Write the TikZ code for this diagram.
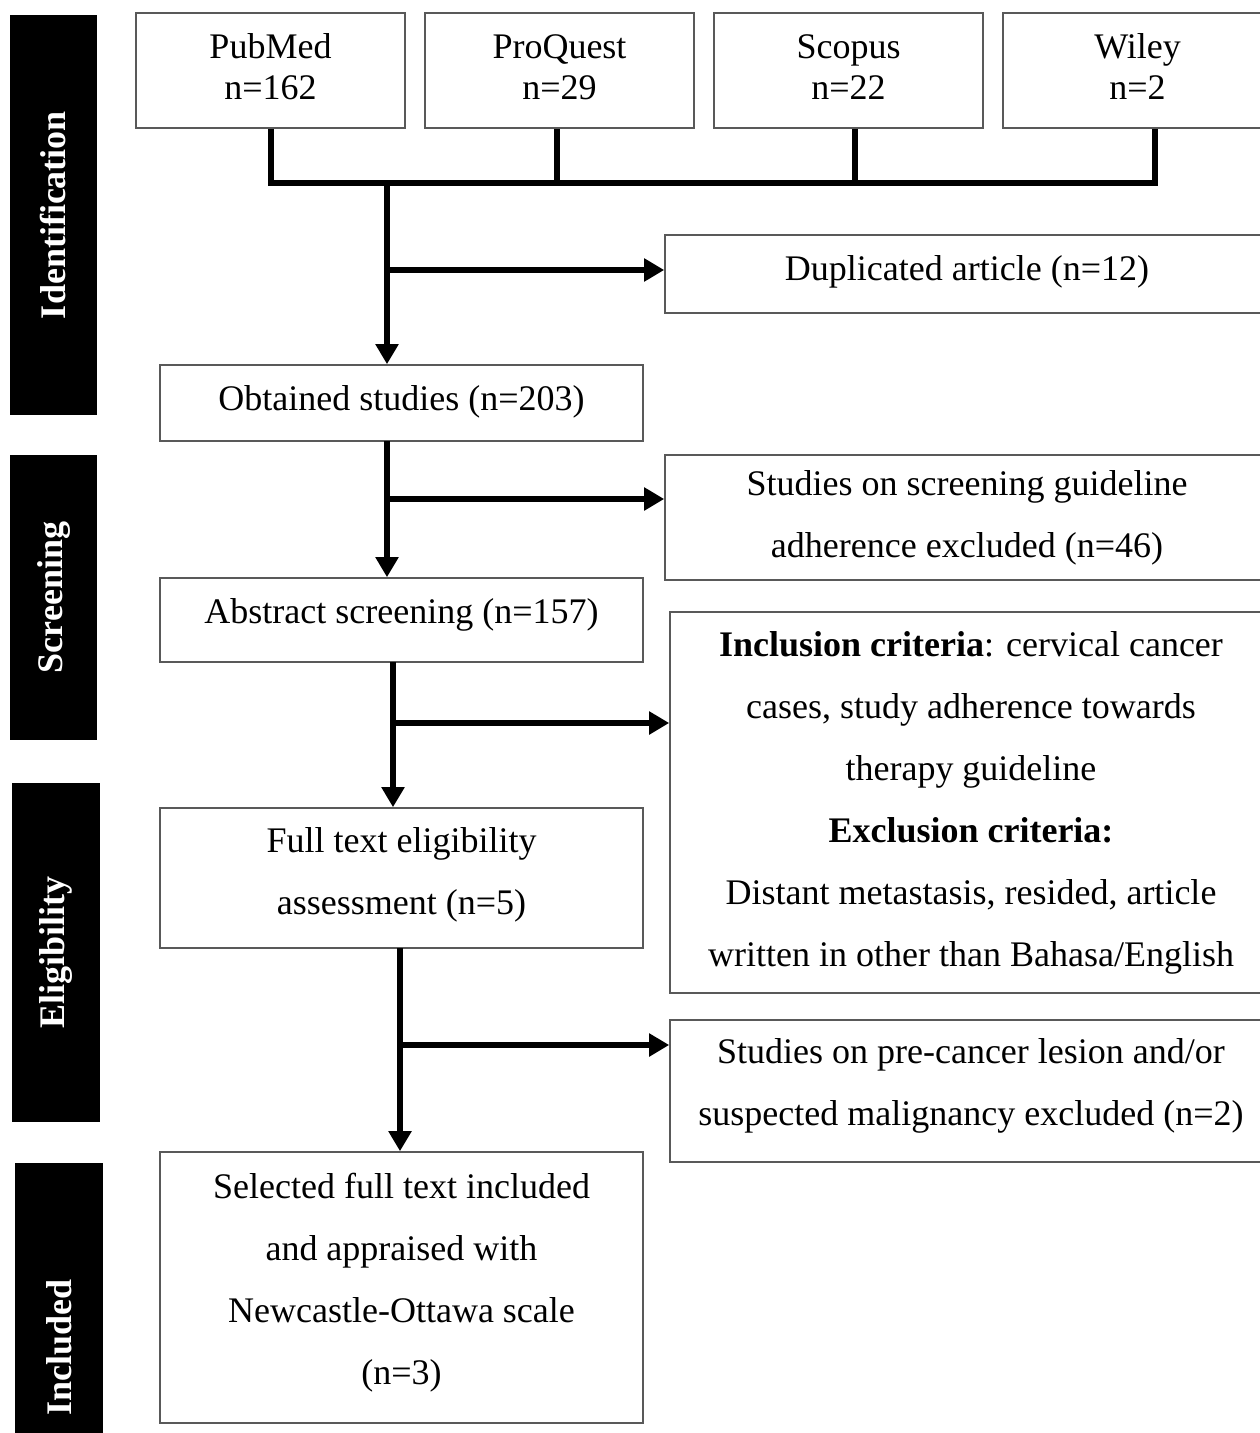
\documentclass[tikz,border=0pt]{standalone}
\usepackage{fontspec}
\setmainfont{Liberation Serif}
\usetikzlibrary{arrows.meta}
\newcommand\fsz{\fontsize{18pt}{31pt}\selectfont}
\begin{document}
\begin{tikzpicture}[x=0.5pt,y=-0.5pt,
  box/.style={draw=black!65, line width=0.8pt, align=center, inner sep=0pt, font=\fsz, fill=white},
  txt/.style={align=center, inner sep=0pt, font=\fsz},
  phase/.style={fill=black, text=white, inner sep=0pt, font=\fsz\bfseries, rotate=90},
  conn/.style={line width=3pt, line join=miter},
  arr/.style={line width=3pt, -{Triangle[length=10pt,width=11pt]}}]
\useasboundingbox (0,0) rectangle (1259,1433);
% phase labels
\node[phase, minimum width=200pt, minimum height=43.5pt] (pid) at (53.5,215) {Identification};
\node[phase, minimum width=142.5pt, minimum height=43.5pt] (psc) at (53.5,597.5) {Screening};
\node[phase, minimum width=169.5pt, minimum height=44pt] (pel) at (56,952.5) {Eligibility};
\node[phase, minimum width=184pt, minimum height=44pt] (pin) at (59,1347) {Included};
% sources
\node[box, minimum width=134.5pt, minimum height=57.5pt] (pubmed) at (270.5,70.5) {};
\node[box, minimum width=134.5pt, minimum height=57.5pt] (proquest) at (559.5,70.5) {};
\node[box, minimum width=134.5pt, minimum height=57.5pt] (scopus) at (848.5,70.5) {};
\node[box, minimum width=134.5pt, minimum height=57.5pt] (wiley) at (1137.5,70.5) {};
\node[txt] (pubmed-t) at ([yshift=1.75pt]pubmed.center) {PubMed\\[-10.5pt]n=162};
\node[txt] (proquest-t) at ([yshift=1.75pt]proquest.center) {ProQuest\\[-10.5pt]n=29};
\node[txt] (scopus-t) at ([yshift=1.75pt]scopus.center) {Scopus\\[-10.5pt]n=22};
\node[txt] (wiley-t) at ([yshift=1.75pt]wiley.center) {Wiley\\[-10.5pt]n=2};
% side boxes
\node[box, minimum width=302pt, minimum height=39pt] (dup) at (967,274) {};
\node[txt] (dup-t) at ([yshift=1pt]dup.center) {Duplicated article (n=12)};
\node[box, minimum width=302pt, minimum height=62.5pt] (sg) at (967,517.5) {Studies on screening guideline\\adherence excluded (n=46)};
\node[box, minimum width=301pt, minimum height=190.5pt] (incl) at (971,802.5) {\textbf{Inclusion criteria}: cervical cancer\\cases, study adherence towards\\therapy guideline\\\textbf{Exclusion criteria:}\\Distant metastasis, resided, article\\written in other than Bahasa/English};
\node[box, minimum width=301pt, minimum height=71pt] (pre) at (971,1091) {};
\node[txt] (pre-t) at ([yshift=2.5pt]pre.center) {Studies on pre-cancer lesion and/or\\suspected malignancy excluded (n=2)};
% main boxes
\node[box, minimum width=241.5pt, minimum height=38pt] (obt) at (401.5,403) {};
\node[txt] (obt-t) at ([yshift=0.5pt]obt.center) {Obtained studies (n=203)};
\node[box, minimum width=241.5pt, minimum height=42pt] (abs) at (401.5,620) {};
\node[txt] (abs-t) at ([yshift=2.5pt]abs.center) {Abstract screening (n=157)};
\node[box, minimum width=241.5pt, minimum height=70pt] (full) at (401.5,878) {};
\node[txt] (full-t) at ([yshift=1.5pt]full.center) {Full text eligibility\\assessment (n=5)};
\node[box, minimum width=241.5pt, minimum height=135.5pt] (sel) at (401.5,1287.5) {};
\node[txt] (sel-t) at ([yshift=2.5pt]sel.center) {Selected full text included\\and appraised with\\Newcastle-Ottawa scale\\(n=3)};
% merge of sources
\coordinate (j) at (387,183);
\draw[conn] (pubmed.south) -- (pubmed.south |- j) -- ([xshift=8.75pt]wiley.south |- j) -- ([xshift=8.75pt]wiley.south);
\draw[conn] ([xshift=-1.25pt]proquest.south) -- ([xshift=-1.25pt]proquest.south |- j);
\draw[conn] ([xshift=3.25pt]scopus.south) -- ([xshift=3.25pt]scopus.south |- j);
% trunk 1
\draw[arr] (j) -- (j |- obt.north);
\coordinate (b1) at (387,270);
\draw[arr] (b1) -- (b1 -| dup.west);
% trunk 2
\coordinate (t2) at (387,441);
\draw[arr] (t2) -- (t2 |- abs.north);
\coordinate (b2) at (387,499);
\draw[arr] (b2) -- (b2 -| sg.west);
% trunk 3
\coordinate (t3) at (393,662);
\draw[arr] (t3) -- (t3 |- full.north);
\coordinate (b3) at (393,723);
\draw[arr] (b3) -- (b3 -| incl.west);
% trunk 4
\coordinate (t4) at (400,948);
\draw[arr] (t4) -- (t4 |- sel.north);
\coordinate (b4) at (400,1045);
\draw[arr] (b4) -- (b4 -| pre.west);
\end{tikzpicture}
\end{document}
